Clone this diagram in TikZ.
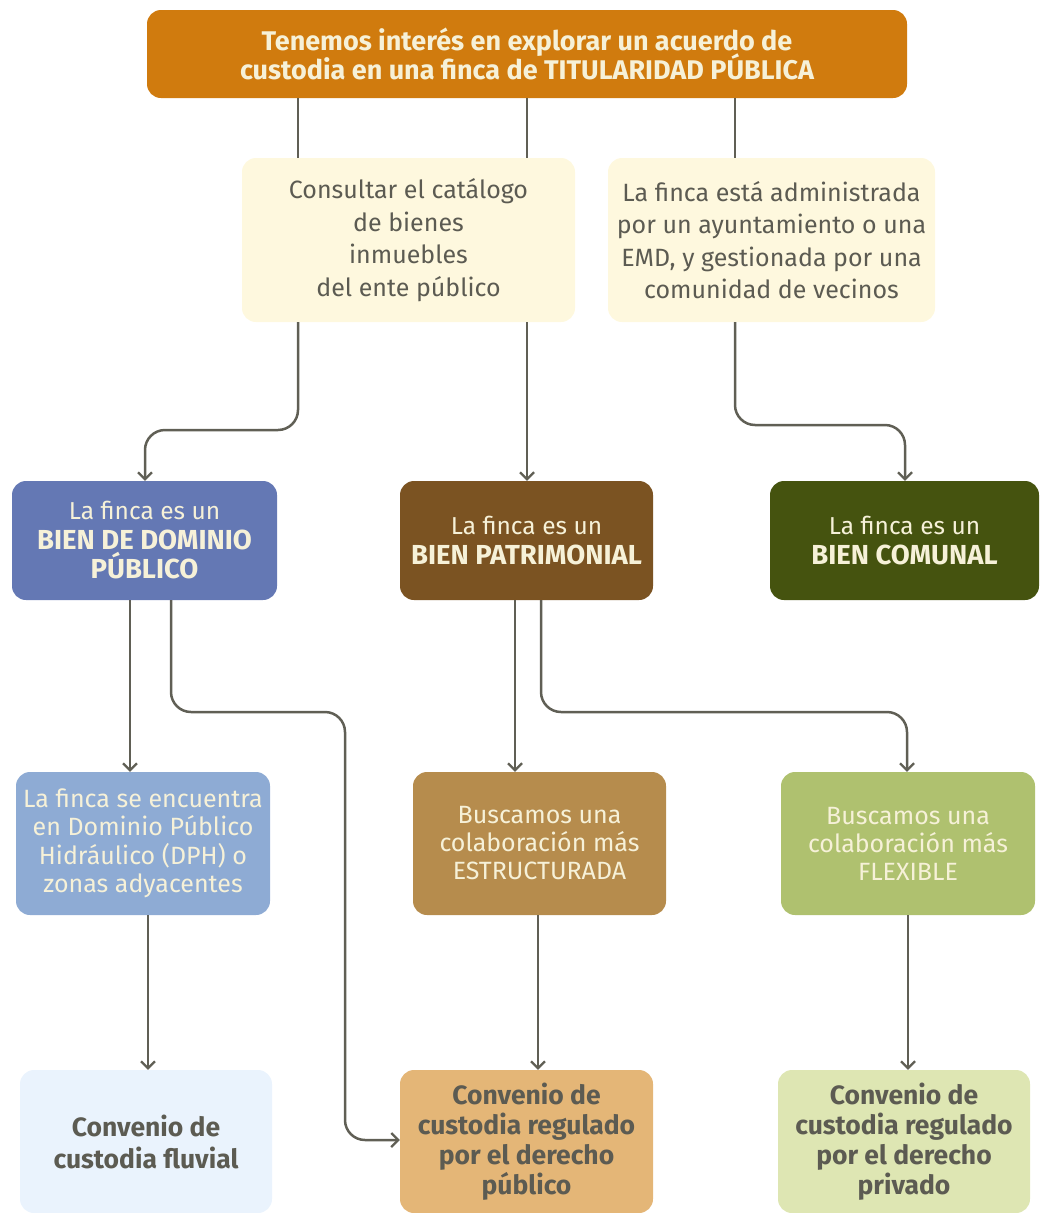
\documentclass[tikz,border=0pt]{standalone}
\usepackage{fontspec}
\setmainfont{Fira Sans}
\usetikzlibrary{arrows.meta}
\definecolor{naranja}{HTML}{D07B0E}
\definecolor{crema}{HTML}{FEF8DE}
\definecolor{azul}{HTML}{6478B4}
\definecolor{marron}{HTML}{7B5322}
\definecolor{oliva}{HTML}{45530F}
\definecolor{azulclaro}{HTML}{8EABD4}
\definecolor{ocre}{HTML}{B68C4D}
\definecolor{verdeclaro}{HTML}{AFC16F}
\definecolor{azulpalido}{HTML}{EAF3FD}
\definecolor{arena}{HTML}{E4B677}
\definecolor{verdepalido}{HTML}{DEE6B3}
\definecolor{linea}{HTML}{605F55}
\definecolor{texto}{HTML}{5C5B52}
\definecolor{textoclaro}{HTML}{F6F1D8}
\begin{document}
\begin{tikzpicture}[x=1pt,y=-1pt,
	caja/.style={rounded corners=14pt,align=center,inner sep=0pt,text=texto,font=\fontsize{25}{32.5}\selectfont},
	negrita/.style={caja,font=\fontsize{26.5}{30}\selectfont\bfseries},
	oscura/.style={caja,text=textoclaro,minimum height=119,font=\fontsize{24.5}{29.5}\selectfont},
	link/.style={draw=linea,line width=2.5pt,rounded corners=20pt},
	flecha/.style={link,-{Straight Barb[length=7pt,width=14pt,line width=2.2pt]}}]
	\useasboundingbox (0,0) rectangle (1039,1213);
	% cajas
	\node[negrita,fill=naranja,text=textoclaro,minimum width=760,minimum height=88,font=\fontsize{27}{29}\selectfont\bfseries] (inicio) at (527,54) {Tenemos interés en explorar un acuerdo de\\[-3pt]custodia en una finca de TITULARIDAD PÚBLICA};
	\node[caja,fill=crema,minimum width=333,minimum height=164] (catalogo) at (408.5,240) {Consultar el catálogo\\de bienes\\inmuebles\\del ente público};
	\node[caja,fill=crema,minimum width=327,minimum height=164] (ayto) at (771.5,240) {La finca está administrada\\por un ayuntamiento o una\\EMD, y gestionada por una\\comunidad de vecinos};
	\node[oscura,fill=azul,minimum width=265] (dominio) at (144.5,540.5) {La finca es un\\{\fontsize{27.5}{29}\selectfont\bfseries BIEN DE DOMINIO}\\{\fontsize{27.5}{29}\selectfont\bfseries PÚBLICO}};
	\node[oscura,fill=marron,minimum width=253] (patrimonial) at (526.5,540.5) {La finca es un\\{\fontsize{27.5}{29}\selectfont\bfseries BIEN PATRIMONIAL}};
	\node[oscura,fill=oliva,minimum width=269] (comunal) at (904.5,540.5) {La finca es un\\{\fontsize{27.5}{29}\selectfont\bfseries BIEN COMUNAL}};
	\node[caja,fill=azulclaro,text=textoclaro,minimum width=254,minimum height=143,font=\fontsize{25}{28.5}\selectfont] (dph) at (143,843.5) {La finca se encuentra\\en Dominio Público\\Hidráulico (DPH) o\\zonas adyacentes};
	\node[caja,fill=ocre,text=textoclaro,minimum width=253,minimum height=143,font=\fontsize{25}{28}\selectfont] (estructurada) at (539.5,843.5) {Buscamos una\\colaboración más\\ESTRUCTURADA};
	\node[caja,fill=verdeclaro,text=textoclaro,minimum width=254,minimum height=143,font=\fontsize{25}{28}\selectfont] (flexible) at (908,843.5) {Buscamos una\\colaboración más\\FLEXIBLE};
	\node[negrita,fill=azulpalido,minimum width=252,minimum height=143,font=\fontsize{26.5}{32}\selectfont\bfseries] (fluvial) at (146,1141.5) {Convenio de\\custodia fluvial};
	\node[negrita,fill=arena,minimum width=253,minimum height=143] (publico) at (526.5,1141.5) {Convenio de\\custodia regulado\\por el derecho\\público};
	\node[negrita,fill=verdepalido,minimum width=252,minimum height=143] (privado) at (904,1141.5) {Convenio de\\custodia regulado\\por el derecho\\privado};
	% puntos de paso
	\coordinate (xa) at (298,0);
	\coordinate (xb) at (527,0);
	\coordinate (xc) at (735,0);
	\coordinate (xd) at (130,0);
	\coordinate (xe) at (171,0);
	\coordinate (xf) at (515,0);
	\coordinate (xg) at (541,0);
	% conectores
	\draw[link] (inicio.south -| xa) -- (catalogo.north -| xa);
	\draw[link] (inicio.south -| xb) -- (catalogo.north -| xb);
	\draw[link] (inicio.south -| xc) -- (ayto.north -| xc);
	\draw[flecha] (catalogo.south -| xa) -- (298,430) -- (145,430) -- (dominio.north -| 145,0);
	\draw[flecha] (catalogo.south -| xb) -- (patrimonial.north -| xb);
	\draw[flecha] (ayto.south -| xc) -- (735,425) -- (905,425) -- (comunal.north -| 905,0);
	\draw[flecha] (dominio.south -| xd) -- (dph.north -| xd);
	\draw[flecha] (dominio.south -| xe) -- (171,712) -- (345,712) -- (345,1140) -- (publico.west |- 0,1140);
	\draw[flecha] (patrimonial.south -| xf) -- (estructurada.north -| xf);
	\draw[flecha] (patrimonial.south -| xg) -- (541,712) -- (907,712) -- (flexible.north -| 907,0);
	\draw[flecha] (dph.south -| 148,0) -- (fluvial.north -| 148,0);
	\draw[flecha] (estructurada.south -| 538,0) -- (publico.north -| 538,0);
	\draw[flecha] (flexible.south -| 908,0) -- (privado.north -| 908,0);
\end{tikzpicture}
\end{document}
